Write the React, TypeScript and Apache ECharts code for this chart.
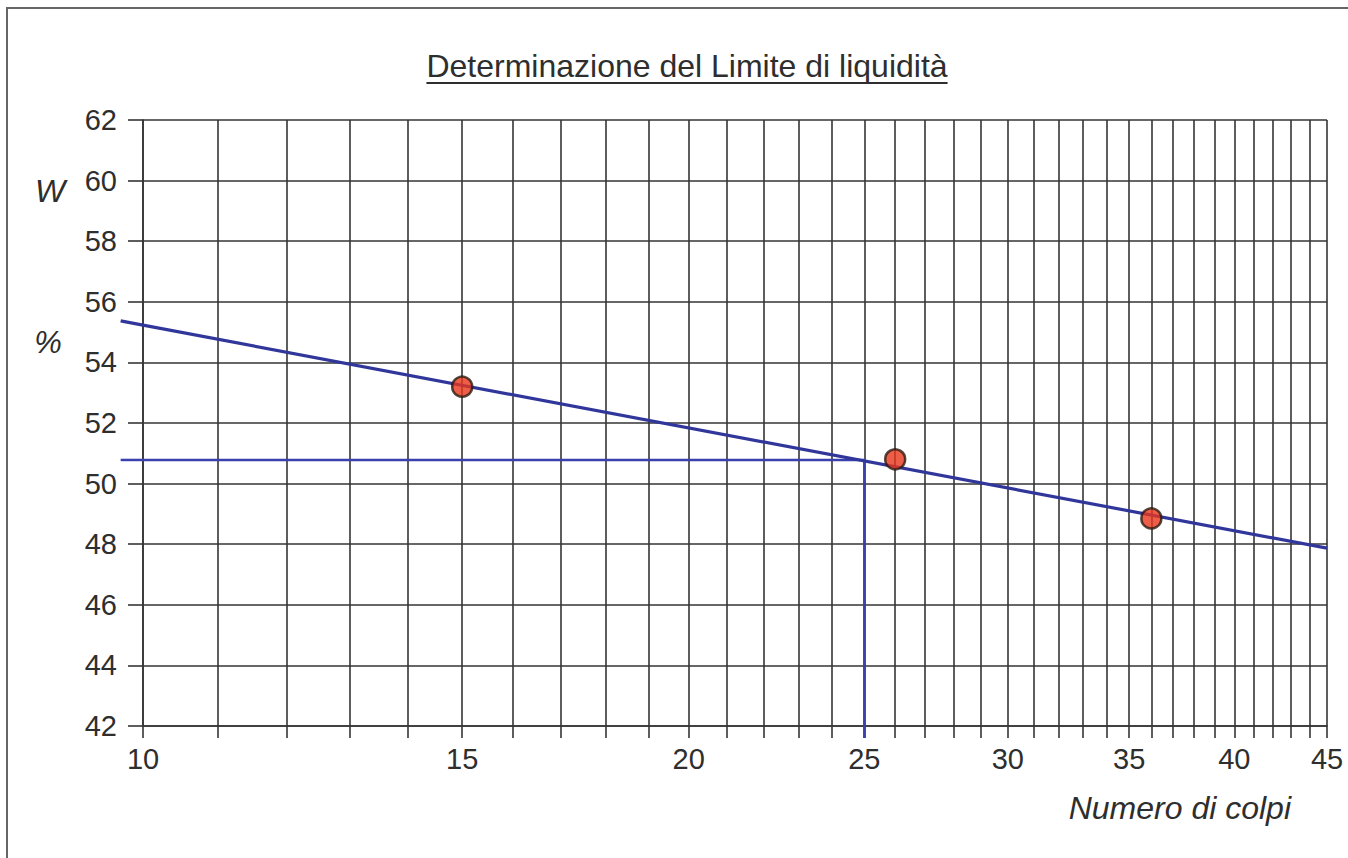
import React, { useEffect, useRef } from "react";
import * as echarts from "echarts";

const titleText = "Determinazione del Limite di liquidità";
const xAxisName = "Numero di colpi";
const xLabelValues = [10, 15, 20, 25, 30, 35, 40, 45];
const xTickValues = [10, 11, 12, 13, 14, 15, 16, 17, 18, 19, 20, 21, 22, 23, 24, 25, 26, 27, 28, 29, 30, 31, 32, 33, 34, 35, 36, 37, 38, 39, 40, 41, 42, 43, 44, 45];
const samples: [number, number][] = [
  [15, 53.2],
  [26, 50.8],
  [36, 48.85],
];
// regression line, read at its two ends on the grid
const fitLine: [number, number][] = [
  [10, 55.23],
  [45, 47.87],
];
// liquid limit construction: horizontal at W = 50.78 to N = 25, then down
const liquidLimitPath: [number, number][] = [
  [10, 50.78],
  [25, 50.78],
  [25, 41.6],
];
// the drawn lines stick out slightly left of the N = 10 grid line
const lineLeftEnd = 9.72;

const FONT = "'Liberation Sans', Arial, sans-serif";
const LINE_BLUE = "#30369a";
const LL_BLUE = "#3a40ad";

export default function App() {
  const ref = useRef<HTMLDivElement>(null);
  useEffect(() => {
    if (!ref.current) return;
    const chart = echarts.init(ref.current, null, { renderer: "svg" });
    const titleSize = 32;
    let titleW = 518;
    try {
      const ctx = document.createElement("canvas").getContext("2d");
      if (ctx) {
        ctx.font = `${titleSize}px ${FONT}`;
        titleW = ctx.measureText(titleText).width;
      }
    } catch (e) {}
    const cx = 687;
    const baseGraphics: any[] = [
      {
        type: "rect",
        shape: { x: 7, y: 8, width: 1400, height: 900 },
        style: { fill: "none", stroke: "#666", lineWidth: 2 },
        silent: true,
      },
      {
        type: "text",
        x: cx,
        y: 66,
        style: {
          text: titleText,
          fontSize: titleSize,
          fontFamily: FONT,
          fill: "#2e2e2e",
          textAlign: "center",
          textVerticalAlign: "middle",
        },
      },
      {
        type: "line",
        shape: { x1: cx - titleW / 2, y1: 83, x2: cx + titleW / 2, y2: 83 },
        style: { stroke: "#2e2e2e", lineWidth: 2 },
      },
      {
        type: "text",
        x: 50,
        y: 191,
        style: {
          text: "W",
          fontSize: 32,
          fontStyle: "italic",
          fontFamily: FONT,
          fill: "#2e2e2e",
          textAlign: "center",
          textVerticalAlign: "middle",
        },
      },
      {
        type: "text",
        x: 48,
        y: 342,
        style: {
          text: "%",
          fontSize: 31,
          fontStyle: "italic",
          fontFamily: FONT,
          fill: "#2e2e2e",
          textAlign: "center",
          textVerticalAlign: "middle",
        },
      },
      {
        type: "text",
        x: 1291,
        y: 808,
        style: {
          text: xAxisName,
          fontSize: 32,
          fontStyle: "italic",
          fontFamily: FONT,
          fill: "#2e2e2e",
          textAlign: "right",
          textVerticalAlign: "middle",
        },
      },
    ];
    chart.setOption({
      animation: false,
      backgroundColor: "#ffffff",
      grid: { left: 143, right: 21, top: 120, bottom: 132 },
      xAxis: {
        type: "log",
        logBase: 10,
        min: 10,
        max: 45,
        axisLine: { show: true, lineStyle: { color: "#353535", width: 1.6 } },
        axisTick: {
          show: true,
          customValues: xTickValues,
          length: 12,
          lineStyle: { color: "#353535", width: 1.6 },
        },
        axisLabel: {
          customValues: xLabelValues,
          margin: 18,
          fontSize: 29,
          color: "#2e2e2e",
          fontFamily: FONT,
        },
        splitLine: { show: true, lineStyle: { color: "#353535", width: 1.6 } },
        minorSplitLine: { show: false },
        minorTick: { show: false },
      },
      yAxis: {
        type: "value",
        min: 42,
        max: 62,
        interval: 2,
        axisLine: { show: true, lineStyle: { color: "#353535", width: 1.6 } },
        axisTick: { show: true, length: 15, lineStyle: { color: "#353535", width: 1.6 } },
        axisLabel: { margin: 26, fontSize: 29, color: "#2e2e2e", fontFamily: FONT },
        splitLine: { show: true, lineStyle: { color: "#353535", width: 1.6 } },
      },
      series: [
        {
          type: "line",
          data: liquidLimitPath,
          clip: false,
          symbol: "none",
          lineStyle: { color: LL_BLUE, width: 2.5 },
          z: 3,
        },
        {
          type: "line",
          data: fitLine,
          clip: false,
          symbol: "none",
          lineStyle: { color: LINE_BLUE, width: 3.2 },
          z: 4,
        },
        {
          type: "scatter",
          data: samples,
          symbolSize: 20,
          itemStyle: { color: "#e8361c", borderColor: "#2a1a10", borderWidth: 2.5 },
          z: 5,
        },
      ],
      graphic: baseGraphics,
    });

    // extend the two blue lines left of N = 10 through the axis scale
    const toPx = (p: [number, number]) =>
      chart.convertToPixel({ xAxisIndex: 0, yAxisIndex: 0 }, p) as number[];
    const a = toPx(fitLine[0]);
    const b = toPx(fitLine[1]);
    const ratio = Math.log(10 / lineLeftEnd) / Math.log(fitLine[1][0] / fitLine[0][0]);
    const xLeft = a[0] - (b[0] - a[0]) * ratio;
    const slope = (b[1] - a[1]) / (b[0] - a[0]);
    const yFitLeft = a[1] + slope * (xLeft - a[0]);
    const h = toPx(liquidLimitPath[0]);
    chart.setOption({
      graphic: [
        ...baseGraphics,
        {
          type: "line",
          shape: { x1: xLeft, y1: yFitLeft, x2: a[0], y2: a[1] },
          style: { stroke: LINE_BLUE, lineWidth: 3.2 },
          z: 4,
        },
        {
          type: "line",
          shape: { x1: xLeft, y1: h[1], x2: h[0], y2: h[1] },
          style: { stroke: LL_BLUE, lineWidth: 2.5 },
          z: 3,
        },
      ],
    });
    return () => chart.dispose();
  }, []);
  return (
    <div
      ref={ref}
      style={{ position: "absolute", left: 0, top: 0, width: 1348, height: 858 }}
    />
  );
}
